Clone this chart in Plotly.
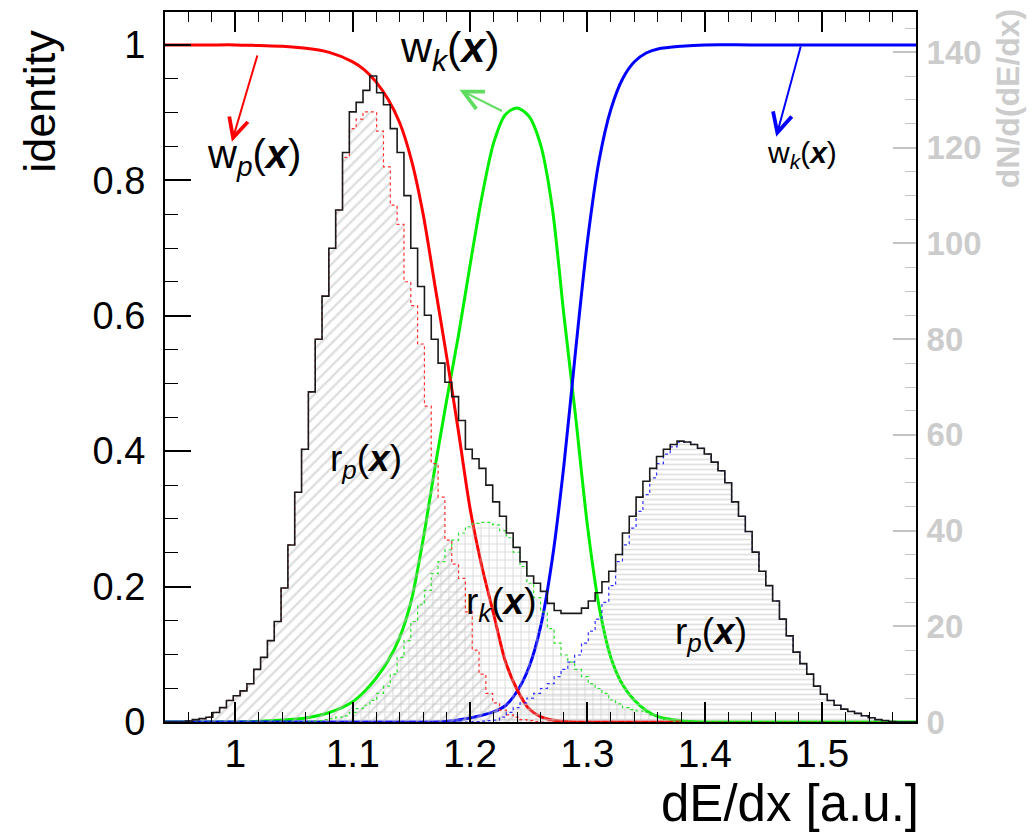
import numpy as np
import plotly.graph_objects as go

# dE/dx histogram: 110 bins on [0.94, 1.58]
x_lo, x_hi, n_bins = 0.94, 1.58, 110

total_counts = [
    0, 0, 0, 0.2, 0.5, 0.7, 1, 2, 3, 4.5,
    5.5, 6.5, 8, 11, 13.5, 17, 21, 28, 37, 48,
    57, 69, 80, 89, 99, 107, 119, 127.5, 129.5, 132,
    135, 131.5, 129, 124, 119, 110, 99, 91, 85, 80,
    75, 71, 68, 63, 57, 55, 53, 49.5, 46, 43,
    39.5, 36.5, 33.5, 30.5, 29, 27.3, 24.8, 23.3, 22.7, 22.7,
    22.7, 23.8, 25.3, 27, 29.3, 31.5, 35, 39.5, 43, 47,
    50.3, 53, 55.5, 57, 58, 58.7, 58.5, 58, 57.2, 56,
    54.3, 52.5, 50, 46, 43, 39.8, 35.5, 31.5, 28.5, 25.3,
    21.5, 18, 14.6, 12.2, 10, 7.5, 5.8, 4.5, 3.5, 2.7,
    2.2, 1.8, 1.3, 0.9, 0.5, 0.3, 0.1, 0, 0, 0,
]

pion_counts = [
    0, 0, 0, 0.2, 0.5, 0.7, 1, 2, 3, 4.5,
    5.5, 6.5, 8, 11, 13.5, 17, 21, 28, 37, 48,
    57, 69, 80, 89, 99, 107, 118, 124, 126, 127.5,
    127.5, 123.5, 116, 108, 104, 92, 87, 79, 66, 54,
    47, 38, 33, 30, 23, 15, 10, 6, 4, 2.5,
    1.5, 1, 0.5, 0.3, 0.1, 0, 0, 0, 0, 0,
] + [0] * 50

kaon_counts = [0] * 20 + [
    0.1, 0.2, 0.3, 0.5, 0.7, 1, 1.3, 2, 2.8, 3.5,
    4.5, 6, 7.5, 10, 13.5, 17, 21, 24.5, 27.5, 31,
    33.5, 36, 38, 39.5, 40.8, 41.5, 41.7, 41.7, 41.2, 40,
    38.5, 35.5, 32.5, 29, 26, 23, 19.5, 16.5, 14, 12.5,
    11, 9.5, 8, 7, 6, 4.6, 3.8, 3, 2.6, 2.3,
    2, 1.5, 1, 0.5, 0.2,
] + [0] * 35

proton_counts = [0] * 45 + [
    0.1, 0.2, 0.3, 0.4, 1, 2, 3, 4, 5, 6,
    7, 8, 9.5, 11, 12.5, 14, 16.5, 19, 21.5, 25,
    28.5, 33.5, 37, 40.5, 44, 47.5, 51, 54, 56, 57.5,
    58.5, 58.5, 58, 57.2, 56, 54.3, 52.5, 50, 46, 43,
    39.8, 35.5, 31.5, 28.5, 25.3, 21.5, 18, 14.6, 12.2, 10,
    7.5, 5.8, 4.5, 3.5, 2.7, 2.2, 1.8, 1.3, 0.9, 0.5,
    0.3, 0.1, 0, 0, 0,
]

# weight functions w_i(x) sampled along dE/dx
w_x = [0.94, 0.96, 0.98, 1.00, 1.02, 1.04, 1.06, 1.08, 1.10, 1.11,
       1.12, 1.13, 1.14, 1.15, 1.16, 1.17, 1.18, 1.19, 1.20, 1.21,
       1.22, 1.23, 1.24, 1.25, 1.26, 1.27, 1.28, 1.29, 1.30, 1.31,
       1.32, 1.33, 1.34, 1.35, 1.36, 1.38, 1.40, 1.44, 1.50, 1.58]
w_pion = [1, 1, 1, 1, 0.999, 0.998, 0.995, 0.989, 0.975, 0.963,
          0.945, 0.92, 0.885, 0.83, 0.75, 0.645, 0.54, 0.43, 0.315, 0.23,
          0.16, 0.09, 0.048, 0.02, 0.008, 0.003, 0.001, 0, 0, 0,
          0, 0, 0, 0, 0, 0, None, None, None, None]
w_kaon = [0, 0, 0, 0, 0.001, 0.003, 0.006, 0.014, 0.03, 0.045,
          0.065, 0.09, 0.125, 0.18, 0.27, 0.375, 0.475, 0.57, 0.675, 0.775,
          0.855, 0.897, 0.907, 0.895, 0.853, 0.76, 0.60, 0.45, 0.29, 0.17,
          0.095, 0.055, 0.032, 0.017, 0.008, 0.002, 0, 0, 0, 0]
w_proton = [0, 0, 0, 0, 0, 0, 0, 0, 0, 0,
            0, 0, 0, 0, 0, 0, 0.001, 0.003, 0.006, 0.01,
            0.015, 0.024, 0.045, 0.08, 0.14, 0.24, 0.38, 0.55, 0.71, 0.83,
            0.905, 0.95, 0.975, 0.988, 0.994, 0.998, 1, 1, 1, 1]

FONT = "Liberation Sans, Arial, Helvetica, sans-serif"
Y_TOP = 1.0486          # left axis upper limit
COUNTS_PER_UNIT = 141.5  # right axis units per left axis unit

edges = np.linspace(x_lo, x_hi, n_bins + 1)


def steps(vals):
    v = list(vals)
    return v + [v[-1]]


fig = go.Figure()

# hatched areas under each species
fills = [
    (pion_counts, dict(shape="/", fgcolor="#bcbcbc", size=8, solidity=0.3)),
    (kaon_counts, dict(shape="+", fgcolor="#bcbcbc", size=8, solidity=0.25)),
    (proton_counts, dict(shape="-", fgcolor="#c4c4c4", size=5, solidity=0.35)),
]
for vals, pat in fills:
    fig.add_trace(go.Scatter(
        x=edges, y=steps(vals), yaxis="y2", mode="lines",
        line=dict(width=0, shape="hv"), fill="tozeroy",
        fillcolor="rgba(0,0,0,0)", fillpattern=pat,
        hoverinfo="skip", showlegend=False))

# dotted species outlines
for vals, col in [(pion_counts, "#ff3030"), (kaon_counts, "#30e030"),
                  (proton_counts, "#3030ff")]:
    fig.add_trace(go.Scatter(
        x=edges, y=steps(vals), yaxis="y2", mode="lines",
        line=dict(color=col, width=1.2, dash="dot", shape="hv"),
        showlegend=False))

# measured total
fig.add_trace(go.Scatter(
    x=edges, y=steps(total_counts), yaxis="y2", mode="lines",
    line=dict(color="#1a1a1a", width=1.6, shape="hv"), showlegend=False))

# weight curves
for w, col in [(w_kaon, "#00ee00"), (w_proton, "#0000ff"), (w_pion, "#ff0000")]:
    fig.add_trace(go.Scatter(
        x=w_x, y=w, mode="lines",
        line=dict(color=col, width=3, shape="spline", smoothing=0.8),
        connectgaps=False, showlegend=False))


def label(txt, x, y, size):
    return dict(x=x, y=y, xref="x", yref="y", text=txt, showarrow=False,
                font=dict(family=FONT, size=size, color="black"),
                xanchor="center", yanchor="middle")


def arrow(x0, y0, x1, y1, col):
    return dict(x=x1, y=y1, ax=x0, ay=y0, xref="x", yref="y",
                axref="x", ayref="y", text="", showarrow=True,
                arrowhead=5, arrowsize=1.9, arrowwidth=2, arrowcolor=col)


xi = "(<b><i>x</i></b>)"
annotations = [
    label("w<sub><i>p</i></sub>" + xi, 1.0155, 0.835, 40),
    label("w<sub><i>k</i></sub>" + xi, 1.1826, 0.993, 43),
    label("w<sub><i>k</i></sub>" + xi, 1.483, 0.838, 30),
    label("r<sub><i>p</i></sub>" + xi, 1.111, 0.386, 37),
    label("r<sub><i>k</i></sub>" + xi, 1.2268, 0.175, 37),
    label("r<sub><i>p</i></sub>" + xi, 1.4055, 0.1296, 37),
    arrow(1.0191, 0.9867, 0.997, 0.857, "#ff0000"),
    arrow(1.2285, 0.9013, 1.191, 0.9337, "#60dd60"),
    arrow(1.4821, 1.0, 1.4609, 0.8645, "#0000ff"),
    dict(x=1.006, y=-0.115, xref="paper", yref="paper", text="dE/dx [a.u.]",
         showarrow=False, xanchor="right", yanchor="middle",
         font=dict(family=FONT, size=51, color="black")),
    dict(x=-0.1664, y=0.8736, xref="paper", yref="paper", text="identity",
         showarrow=False, textangle=-90, xanchor="center", yanchor="middle",
         font=dict(family=FONT, size=45, color="black")),
    dict(x=1.1225, y=0.8785, xref="paper", yref="paper", text="dN/d(dE/dx)",
         showarrow=False, textangle=-90, xanchor="center", yanchor="middle",
         font=dict(family=FONT, size=32, color="#cccccc", weight="bold")),
]

fig.update_layout(
    width=1035, height=838, autosize=False,
    margin=dict(l=165, r=119, t=10, b=116),
    paper_bgcolor="white", plot_bgcolor="white",
    showlegend=False,
    annotations=annotations,
    xaxis=dict(
        range=[x_lo, x_hi], tickmode="linear", tick0=1.0, dtick=0.1,
        ticks="inside", ticklen=20, tickwidth=1.5, tickcolor="black",
        minor=dict(tickmode="linear", tick0=1.0, dtick=0.02, ticks="inside",
                   ticklen=10, tickwidth=1.2, tickcolor="black"),
        showline=True, linewidth=2, linecolor="black", mirror="ticks",
        showgrid=False, zeroline=False, ticklabelstandoff=-4,
        tickfont=dict(family=FONT, size=39, color="black"),
    ),
    yaxis=dict(
        range=[0, Y_TOP], tickmode="linear", tick0=0, dtick=0.2,
        ticks="inside", ticklen=26, tickwidth=1.5, tickcolor="black",
        minor=dict(tickmode="linear", tick0=0, dtick=0.05, ticks="inside",
                   ticklen=13, tickwidth=1.2, tickcolor="black"),
        showline=True, linewidth=2, linecolor="black",
        showgrid=False, zeroline=False, ticklabelstandoff=10,
        tickfont=dict(family=FONT, size=38, color="black"),
    ),
    yaxis2=dict(
        range=[0, Y_TOP * COUNTS_PER_UNIT], overlaying="y", side="right",
        tickmode="linear", tick0=0, dtick=20,
        ticks="inside", ticklen=23, tickwidth=1.5, tickcolor="#c4c4c4",
        minor=dict(tickmode="linear", tick0=0, dtick=5, ticks="inside",
                   ticklen=11, tickwidth=1.2, tickcolor="#c4c4c4"),
        showline=True, linewidth=2, linecolor="black",
        showgrid=False, zeroline=False, ticklabelstandoff=2,
        tickfont=dict(family=FONT, size=33, color="#cccccc", weight="bold"),
    ),
)

fig.write_html("out.html")
